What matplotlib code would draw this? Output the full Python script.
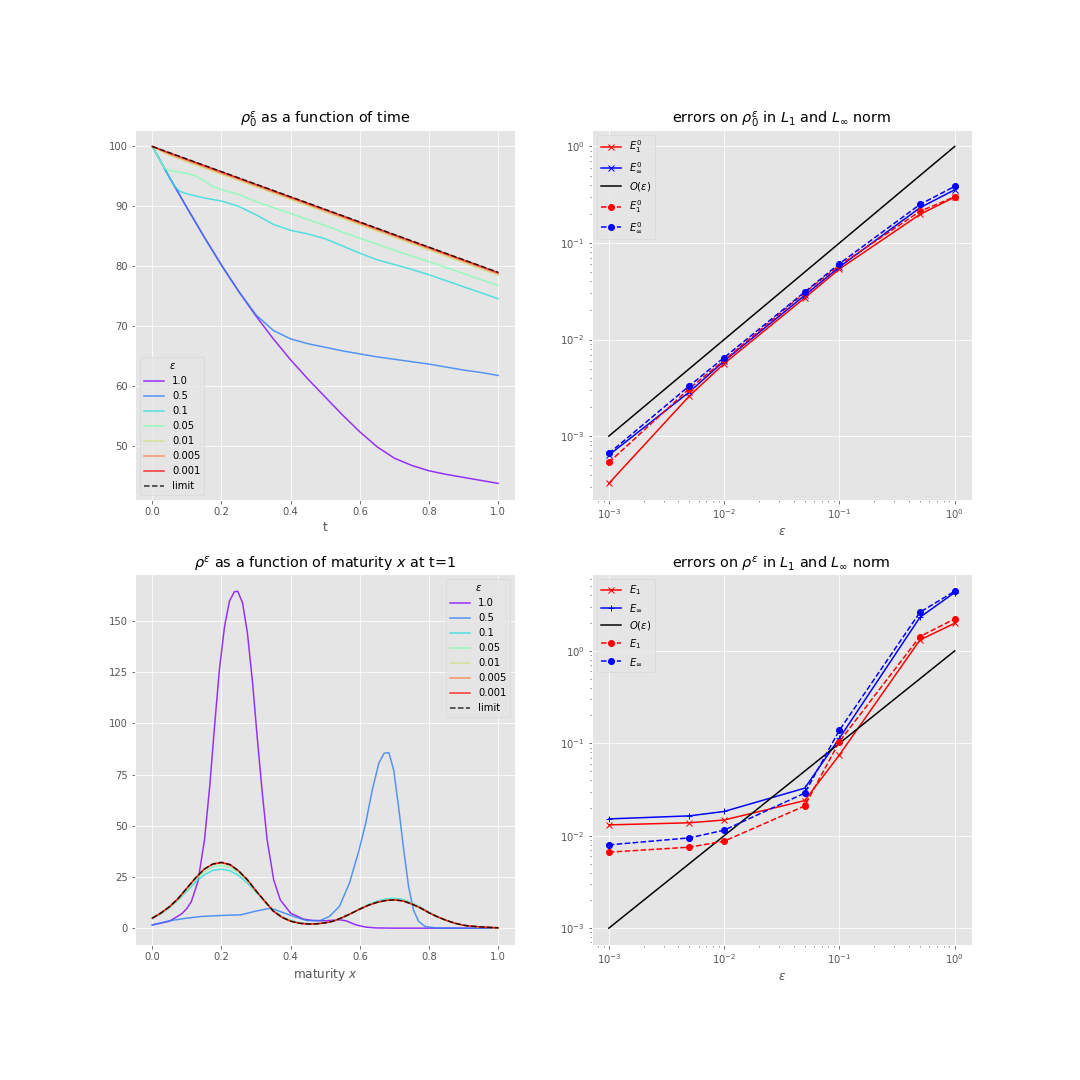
import matplotlib
matplotlib.use("Agg")
import matplotlib.pyplot as plt
import numpy as np

plt.style.use("ggplot")

# ---------------- data ----------------
eps_labels = ["1.0", "0.5", "0.1", "0.05", "0.01", "0.005", "0.001"]

# top-left: rho_0^eps as function of time
t_common = [0, 0.05, 0.1, 0.15, 0.2, 0.25, 0.3, 0.35, 0.4, 0.45, 0.5,
            0.55, 0.6, 0.65, 0.7, 0.75, 0.8, 0.85, 0.9, 0.95, 1.0]
rho0_e1 = [100, 94.8, 89.8, 84.9, 80.2, 75.8, 71.7, 67.9, 64.4, 61.2, 58.2,
           55.2, 52.4, 49.9, 48.0, 46.8, 45.9, 45.3, 44.8, 44.3, 43.8]
rho0_e05 = [100, 94.8, 89.8, 84.9, 80.2, 75.8, 71.9, 69.3, 67.9, 67.1, 66.5,
            65.9, 65.4, 64.9, 64.5, 64.1, 63.7, 63.2, 62.7, 62.3, 61.8]
t_e01 = [0, 0.025, 0.05, 0.065, 0.08, 0.1, 0.15, 0.2, 0.25, 0.3, 0.35, 0.4,
         0.45, 0.5, 0.55, 0.6, 0.65, 0.7, 0.75, 0.8, 0.85, 0.9, 0.95, 1.0]
rho0_e01 = [100, 97.4, 94.8, 93.3, 92.5, 92.1, 91.4, 90.9, 90.0, 88.6, 87.0,
            86.0, 85.4, 84.6, 83.4, 82.2, 81.1, 80.3, 79.5, 78.6, 77.6, 76.6,
            75.6, 74.6]
t_e005 = [0, 0.02, 0.035, 0.05, 0.1, 0.125, 0.15, 0.175, 0.2, 0.25, 0.3, 0.35,
          0.4, 0.45, 0.5, 0.55, 0.6, 0.65, 0.7, 0.75, 0.8, 0.85, 0.9, 0.95, 1.0]
rho0_e005 = [100, 97.8, 96.4, 96.0, 95.5, 95.1, 94.3, 93.3, 92.8, 92.0, 90.8,
             89.8, 88.8, 87.8, 86.8, 85.7, 84.7, 83.7, 82.7, 81.7, 80.8, 79.8,
             78.8, 77.8, 76.8]
t_small = [0, 0.05, 1.0]
rho0_e001 = [100, 98.5, 78.5]
rho0_e0005 = [100, 98.7, 78.75]
rho0_e0001 = [100, 98.9, 78.95]
t_limit = [0, 1.0]
rho0_limit = [100, 79.0]

# top-right: errors on rho_0
eps_vals = [1e-3, 5e-3, 1e-2, 5e-2, 1e-1, 5e-1, 1.0]
E1_0_a = [3.24e-4, 2.61e-3, 5.64e-3, 0.027, 0.0538, 0.198, 0.299]
Einf_0_a = [6.36e-4, 2.87e-3, 6.0e-3, 0.0287, 0.0565, 0.232, 0.356]
E1_0_b = [5.34e-4, 3.11e-3, 6.11e-3, 0.0306, 0.0587, 0.213, 0.301]
Einf_0_b = [6.62e-4, 3.32e-3, 6.51e-3, 0.0311, 0.0611, 0.251, 0.386]

# bottom-left: rho^eps as function of maturity at t=1
x_e1 = [0, 0.05, 0.085, 0.1, 0.113, 0.132, 0.151, 0.166, 0.18, 0.194, 0.209,
        0.223, 0.237, 0.247, 0.261, 0.275, 0.29, 0.304, 0.318, 0.332, 0.351,
        0.37, 0.4, 0.437, 0.466, 0.5, 0.54, 0.56, 0.589, 0.617, 0.646, 0.7,
        0.8, 0.9, 1.0]
rho_e1 = [1.6, 3.4, 7.0, 9.6, 13.0, 22.8, 43.2, 69.2, 98.5, 126.2, 147.4,
          159.6, 164.2, 164.5, 158.8, 144.1, 119.7, 92.0, 66.0, 43.2, 23.6,
          13.8, 7.3, 4.4, 3.7, 3.6, 4.1, 3.6, 1.6, 0.5, 0.1, 0, 0, 0, 0]
x_e05 = [0, 0.05, 0.1, 0.142, 0.2, 0.256, 0.294, 0.342, 0.37, 0.409, 0.447,
         0.485, 0.512, 0.541, 0.57, 0.598, 0.617, 0.636, 0.655, 0.67, 0.684,
         0.698, 0.712, 0.727, 0.741, 0.755, 0.77, 0.789, 0.82, 0.9, 1.0]
rho_e05 = [1.5, 3.6, 4.9, 5.7, 6.2, 6.5, 8.1, 9.8, 8.1, 5.7, 3.7, 3.7, 5.7,
           10.6, 22.0, 38.2, 51.2, 67.5, 80.5, 85.4, 85.7, 77.2, 59.3, 38.2,
           20.3, 8.9, 3.3, 0.8, 0.1, 0, 0]
x_grid = [0, 0.025, 0.05, 0.075, 0.1, 0.125, 0.15, 0.175, 0.2, 0.225, 0.25,
          0.275, 0.3, 0.325, 0.35, 0.375, 0.4, 0.425, 0.45, 0.475, 0.5, 0.525,
          0.55, 0.575, 0.6, 0.625, 0.65, 0.675, 0.7, 0.725, 0.75, 0.775, 0.8,
          0.825, 0.85, 0.875, 0.9, 0.925, 0.95, 0.975, 1.0]
rho_e01 = [4.6, 7.0, 10.0, 13.8, 18.0, 22.5, 26.0, 28.2, 28.8, 28.0, 25.6,
           22.0, 17.6, 13.0, 8.6, 5.6, 3.8, 2.7, 2.2, 2.2, 2.6, 3.5, 5.1, 7.1,
           9.4, 11.6, 13.2, 14.3, 14.6, 14.0, 12.4, 10.3, 7.8, 5.6, 3.8, 2.4,
           1.4, 0.9, 0.6, 0.35, 0.2]
rho_e005 = [4.8, 7.3, 10.3, 14.2, 18.8, 23.6, 27.5, 29.9, 30.6, 29.6, 26.9,
            22.9, 18.0, 13.2, 8.4, 5.4, 3.6, 2.5, 2.1, 2.1, 2.6, 3.5, 5.2, 7.2,
            9.3, 11.4, 12.9, 13.9, 14.2, 13.6, 12.1, 10.1, 7.6, 5.5, 3.8, 2.4,
            1.4, 0.9, 0.6, 0.35, 0.2]
rho_e001 = [4.9, 7.4, 10.5, 14.5, 19.4, 24.4, 28.6, 31.1, 31.7, 30.7, 27.7,
            23.5, 18.2, 13.2, 8.3, 5.3, 3.4, 2.4, 2.0, 2.1, 2.6, 3.5, 5.2, 7.2,
            9.3, 11.2, 12.6, 13.5, 13.8, 13.3, 11.8, 9.9, 7.5, 5.5, 3.8, 2.4,
            1.4, 0.9, 0.6, 0.35, 0.2]
rho_e0005 = [4.9, 7.4, 10.5, 14.5, 19.5, 24.5, 28.8, 31.3, 32.0, 30.9, 27.8,
             23.6, 18.2, 13.2, 8.3, 5.3, 3.4, 2.4, 2.0, 2.1, 2.6, 3.5, 5.2,
             7.2, 9.3, 11.2, 12.6, 13.5, 13.8, 13.3, 11.8, 9.9, 7.5, 5.5, 3.8,
             2.4, 1.4, 0.9, 0.6, 0.35, 0.2]
rho_e0001 = [4.9, 7.4, 10.5, 14.5, 19.5, 24.5, 28.8, 31.3, 32.1, 31.0, 27.9,
             23.6, 18.2, 13.2, 8.3, 5.3, 3.4, 2.4, 2.0, 2.1, 2.6, 3.5, 5.2,
             7.2, 9.3, 11.2, 12.6, 13.5, 13.8, 13.3, 11.8, 9.9, 7.5, 5.5, 3.8,
             2.4, 1.4, 0.9, 0.6, 0.35, 0.2]
rho_limit = [4.9, 7.4, 10.5, 14.5, 19.5, 24.5, 28.8, 31.3, 32.1, 31.0, 27.9,
             23.6, 18.2, 13.2, 8.3, 5.3, 3.4, 2.4, 2.0, 2.1, 2.6, 3.5, 5.2,
             7.2, 9.3, 11.2, 12.6, 13.5, 13.8, 13.3, 11.8, 9.9, 7.5, 5.5, 3.8,
             2.4, 1.4, 0.9, 0.6, 0.35, 0.2]

# bottom-right: errors on rho
E1_a = [0.0131, 0.0138, 0.0148, 0.0240, 0.075, 1.315, 1.99]
Einf_a = [0.0152, 0.0164, 0.0183, 0.0327, 0.1135, 2.31, 4.28]
E1_b = [0.00664, 0.00752, 0.00873, 0.0210, 0.1045, 1.43, 2.22]
Einf_b = [0.00796, 0.00948, 0.01148, 0.0289, 0.1386, 2.62, 4.42]

# ---------------- plot ----------------
colors = plt.cm.rainbow(np.linspace(0, 1, len(eps_labels)))
fig, axs = plt.subplots(2, 2, figsize=(15, 15), dpi=72)
fig.subplots_adjust(left=0.125, right=0.9, bottom=0.125, top=0.88,
                    wspace=0.2, hspace=0.2)

# top-left
ax = axs[0, 0]
top_series = [(t_common, rho0_e1), (t_common, rho0_e05), (t_e01, rho0_e01),
              (t_e005, rho0_e005), (t_small, rho0_e001), (t_small, rho0_e0005),
              (t_small, rho0_e0001)]
for (tx, ty), lab, c in zip(top_series, eps_labels, colors):
    ax.plot(tx, ty, color=c, alpha=0.8, label=lab)
ax.plot(t_limit, rho0_limit, "--", color="black", alpha=0.8, label="limit")
ax.set_title(r"$\rho_0^\varepsilon$ as a function of time")
ax.set_xlabel("t")
ax.legend(title=r"$\varepsilon$", loc="lower left")

# top-right
ax = axs[0, 1]
ax.loglog(eps_vals, E1_0_a, "x-", color="red", label=r"$E_1^0$")
ax.loglog(eps_vals, Einf_0_a, "x-", color="blue", label=r"$E_\infty^0$")
ax.loglog(eps_vals, eps_vals, "-", color="black", label=r"$O(\varepsilon)$")
ax.loglog(eps_vals, E1_0_b, "o--", color="red", label=r"$E_1^0$")
ax.loglog(eps_vals, Einf_0_b, "o--", color="blue", label=r"$E_\infty^0$")
ax.set_title(r"errors on $\rho_0^\varepsilon$ in $L_1$ and $L_\infty$ norm")
ax.set_xlabel(r"$\varepsilon$")
ax.legend(loc="upper left")

# bottom-left
ax = axs[1, 0]
bot_series = [(x_e1, rho_e1), (x_e05, rho_e05), (x_grid, rho_e01),
              (x_grid, rho_e005), (x_grid, rho_e001), (x_grid, rho_e0005),
              (x_grid, rho_e0001)]
for (bx, byv), lab, c in zip(bot_series, eps_labels, colors):
    ax.plot(bx, byv, color=c, alpha=0.8, label=lab)
ax.plot(x_grid, rho_limit, "--", color="black", alpha=0.8, label="limit")
ax.set_title(r"$\rho^\varepsilon$ as a function of maturity $x$ at t=1")
ax.set_xlabel(r"maturity $x$")
ax.legend(title=r"$\varepsilon$", loc="upper right")

# bottom-right
ax = axs[1, 1]
ax.loglog(eps_vals, E1_a, "x-", color="red", label=r"$E_1$")
ax.loglog(eps_vals, Einf_a, "+-", color="blue", label=r"$E_\infty$")
ax.loglog(eps_vals, eps_vals, "-", color="black", label=r"$O(\varepsilon)$")
ax.loglog(eps_vals, E1_b, "o--", color="red", label=r"$E_1$")
ax.loglog(eps_vals, Einf_b, "o--", color="blue", label=r"$E_\infty$")
ax.set_title(r"errors on $\rho^\varepsilon$ in $L_1$ and $L_\infty$ norm")
ax.set_xlabel(r"$\varepsilon$")
ax.legend(loc="upper left")

fig.savefig("out.png", dpi=72)
